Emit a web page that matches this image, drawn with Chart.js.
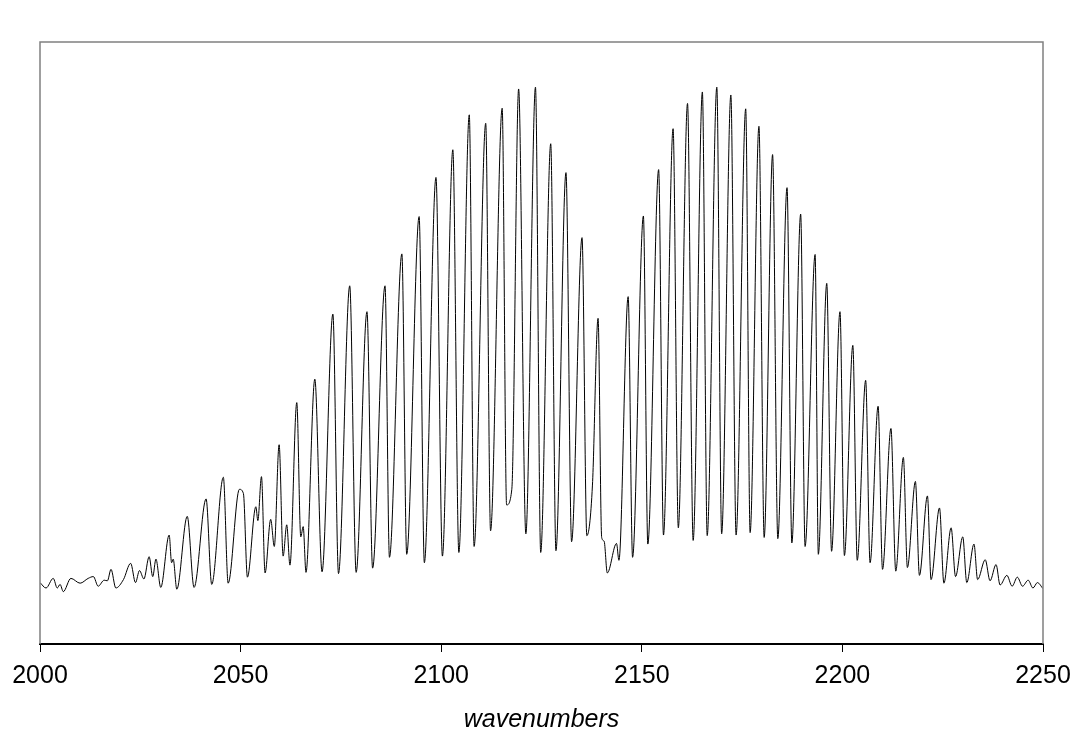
<!DOCTYPE html>
<html>
<head>
<meta charset="utf-8">
<script src="https://cdn.jsdelivr.net/npm/chart.js@4/dist/chart.umd.min.js"></script>
<style>
  html, body { margin: 0; padding: 0; background: #fff; }
  #wrap { width: 1075px; height: 729px; }
</style>
</head>
<body>
<div id="wrap"><canvas id="spectrum"></canvas></div>
<script>
// CO rovibrational band (peaks, troughs and shoulders)
const wavenumbers = [
  2000.0, 2001.5, 2003.3, 2004.3, 2005.0, 2005.8, 2007.7, 2010.0, 2012.0, 2013.3,
  2014.5, 2016.0, 2016.8, 2017.7, 2018.9, 2020.8, 2022.6, 2023.8, 2024.8, 2025.9,
  2027.2, 2028.1, 2028.9, 2030.1, 2032.2, 2032.8, 2033.2, 2034.1, 2036.7, 2038.4,
  2041.4, 2042.8, 2045.7, 2046.9, 2049.7, 2050.7, 2051.7, 2053.8, 2054.3, 2055.2,
  2056.1, 2057.5, 2058.4, 2059.6, 2060.6, 2061.5, 2062.3, 2064.0, 2065.0, 2065.6,
  2066.3, 2068.5, 2070.3, 2073.0, 2074.4, 2077.2, 2078.8, 2081.5, 2082.9, 2086.0,
  2087.1, 2090.2, 2091.4, 2094.5, 2095.8, 2098.7, 2100.3, 2102.9, 2104.4, 2107.0,
  2108.2, 2111.1, 2112.3, 2115.2, 2116.3, 2117.6, 2119.3, 2121.1, 2123.5, 2124.8,
  2127.3, 2128.6, 2131.1, 2132.5, 2135.1, 2136.3, 2137.7, 2139.1, 2140.0, 2140.6,
  2141.4, 2143.7, 2144.3, 2146.6, 2147.7, 2150.4, 2151.5, 2154.2, 2155.4, 2157.8,
  2159.1, 2161.4, 2162.8, 2165.1, 2166.3, 2168.7, 2169.9, 2172.2, 2173.5, 2175.9,
  2177.0, 2179.2, 2180.5, 2182.6, 2183.9, 2186.2, 2187.4, 2189.6, 2190.7, 2193.2,
  2194.0, 2196.1, 2197.3, 2199.4, 2200.5, 2202.6, 2203.7, 2205.8, 2206.9, 2208.9,
  2210.0, 2212.1, 2213.3, 2215.2, 2216.2, 2218.2, 2219.2, 2221.2, 2222.1, 2224.2,
  2225.3, 2227.1, 2228.2, 2230.0, 2231.0, 2232.8, 2233.7, 2235.6, 2236.8, 2238.3,
  2239.3, 2241.0, 2242.3, 2243.6, 2244.9, 2246.3, 2247.5, 2248.6, 2250.0
];

const absorbance = [
  10.2, 9.3, 10.9, 9.3, 9.9, 8.7, 10.9, 10.1, 10.9, 11.2,
  9.6, 10.6, 10.5, 12.4, 9.3, 10.7, 13.4, 10.2, 12.2, 10.8,
  14.5, 11.2, 14.1, 9.4, 18.1, 13.5, 14.1, 9.1, 21.2, 9.4,
  24.1, 9.9, 27.7, 10.1, 25.7, 25.0, 11.1, 22.8, 20.5, 27.8,
  11.8, 20.7, 16.2, 33.1, 14.6, 19.8, 13.1, 40.1, 17.8, 19.5,
  11.9, 44.0, 12.0, 54.8, 11.7, 59.5, 11.9, 55.2, 12.6, 59.5,
  14.4, 64.8, 14.9, 71.0, 13.5, 77.5, 14.6, 82.1, 15.2, 87.9,
  16.2, 86.5, 18.8, 89.0, 23.1, 25.7, 92.2, 18.3, 92.5, 15.2,
  83.1, 15.5, 78.3, 17.0, 67.5, 18.0, 26.4, 54.1, 17.7, 17.1,
  11.8, 16.7, 13.9, 57.7, 14.4, 71.1, 16.6, 78.8, 18.1, 85.6,
  19.3, 89.8, 17.2, 91.7, 18.0, 92.5, 18.3, 91.2, 18.1, 88.9,
  18.5, 86.0, 17.7, 81.3, 17.5, 75.8, 16.8, 71.4, 16.2, 64.7,
  14.9, 59.9, 15.4, 55.2, 14.7, 49.6, 13.9, 43.8, 13.5, 39.5,
  12.4, 35.8, 12.1, 31.0, 12.7, 27.0, 11.4, 24.6, 10.7, 22.6,
  10.1, 19.3, 11.2, 17.8, 10.2, 16.6, 10.7, 14.0, 10.5, 13.2,
  9.8, 11.4, 9.6, 11.1, 9.6, 10.6, 9.3, 10.2, 9.2
];

const xTicks = [2000, 2050, 2100, 2150, 2200, 2250];
const xTitle = 'wavenumbers';

const points = wavenumbers.map((w, i) => ({ x: w, y: absorbance[i] }));

// grey frame round the plot area (left, top, right)
const frame = {
    id: 'frame',
    afterDraw(chart) {
        const a = chart.chartArea;
        const ctx = chart.ctx;
        ctx.save();
        ctx.strokeStyle = '#808080';
        ctx.lineWidth = 1.5;
        ctx.beginPath();
        ctx.moveTo(a.left, a.bottom);
        ctx.lineTo(a.left, a.top);
        ctx.lineTo(a.right, a.top);
        ctx.lineTo(a.right, a.bottom);
        ctx.stroke();
        ctx.restore();
    }
};

new Chart(document.getElementById('spectrum'), {
    type: 'line',
    data: {
        datasets: [{
            data: points,
            borderColor: '#000',
            borderWidth: 1,
            pointRadius: 0,
            cubicInterpolationMode: 'monotone',
            fill: false
        }]
    },
    options: {
        responsive: true,
        maintainAspectRatio: false,
        animation: false,
        layout: { padding: { left: 40, right: 32, top: 42, bottom: -4 } },
        plugins: { legend: { display: false }, tooltip: { enabled: false } },
        scales: {
            x: {
                type: 'linear',
                min: 2000,
                max: 2250,
                afterBuildTicks: axis => { axis.ticks = xTicks.map(v => ({ value: v })); },
                // let the last label hang into the right margin like the original
                afterFit: axis => { axis.paddingLeft = 0; axis.paddingRight = 0; },
                grid: { drawOnChartArea: false, drawTicks: true, tickLength: 8, color: '#000', lineWidth: 1 },
                border: { color: '#000', width: 2 },
                ticks: {
                    color: '#000',
                    padding: 12,
                    maxRotation: 0,
                    font: { family: 'Liberation Sans', size: 25, lineHeight: 1 },
                    callback: v => String(v)
                },
                title: {
                    display: true,
                    text: xTitle,
                    color: '#000',
                    padding: { top: 7, bottom: 0 },
                    font: { family: 'Liberation Sans', size: 25, style: 'italic', lineHeight: 1 }
                }
            },
            y: {
                min: 0,
                max: 100,
                display: false
            }
        }
    },
    plugins: [frame]
});
</script>
</body>
</html>
